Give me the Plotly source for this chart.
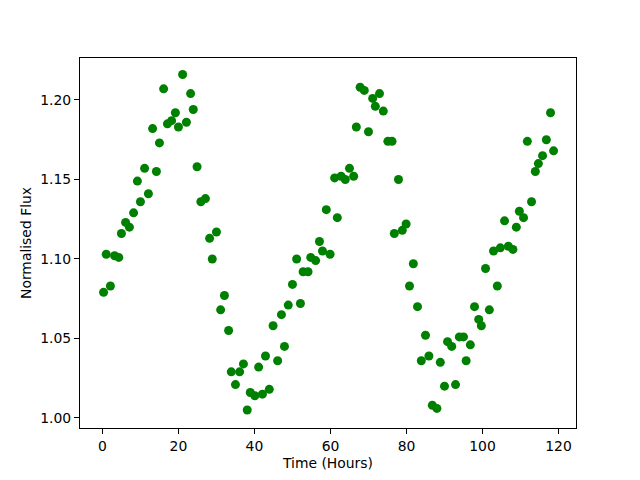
import plotly.graph_objects as go

hours = [0.3, 1.0, 2.1, 3.2, 4.3, 5.0, 6.1, 7.1, 8.2, 9.2,
         10.0, 11.1, 12.1, 13.2, 14.2, 15.0, 16.1, 17.1, 18.2, 19.2,
         20.0, 21.1, 22.1, 23.2, 23.9, 24.9, 25.9, 27.1, 28.2, 28.9,
         30.0, 31.1, 32.1, 33.2, 33.9, 35.0, 36.1, 37.1, 38.1, 38.9,
         40.1, 41.1, 42.1, 42.9, 43.9, 44.9, 46.1, 47.1, 47.9, 48.9,
         50.0, 51.1, 52.1, 52.8, 54.1, 54.8, 56.1, 57.1, 57.9, 58.9,
         59.9, 61.1, 61.8, 62.8, 63.9, 65.0, 66.1, 66.8, 67.8, 68.9,
         70.0, 71.1, 71.8, 72.9, 73.9, 75.1, 76.2, 76.8, 77.9, 78.9,
         79.9, 80.8, 81.8, 82.9, 83.9, 85.0, 85.9, 86.8, 88.0, 88.9,
         90.0, 90.8, 91.9, 92.9, 93.9, 95.0, 95.7, 96.8, 97.9, 99.0,
         99.7, 100.8, 101.8, 102.9, 103.9, 104.7, 105.8, 106.8, 108.0, 108.9,
         109.7, 110.8, 111.8, 112.9, 113.9, 114.7, 115.8, 116.8, 117.9, 118.7]

flux = [1.079, 1.103, 1.083, 1.102, 1.101, 1.116, 1.123, 1.120, 1.129, 1.149,
        1.136, 1.157, 1.141, 1.182, 1.155, 1.173, 1.207, 1.185, 1.187, 1.192,
        1.183, 1.216, 1.186, 1.204, 1.194, 1.158, 1.136, 1.138, 1.113, 1.100,
        1.117, 1.068, 1.077, 1.055, 1.029, 1.021, 1.029, 1.034, 1.005, 1.016,
        1.014, 1.032, 1.015, 1.039, 1.018, 1.058, 1.036, 1.065, 1.045, 1.071,
        1.084, 1.100, 1.072, 1.092, 1.092, 1.101, 1.099, 1.111, 1.105, 1.131,
        1.103, 1.151, 1.126, 1.152, 1.150, 1.157, 1.152, 1.183, 1.208, 1.206,
        1.180, 1.201, 1.196, 1.204, 1.193, 1.174, 1.174, 1.116, 1.150, 1.118,
        1.122, 1.083, 1.097, 1.070, 1.036, 1.052, 1.039, 1.008, 1.006, 1.035,
        1.020, 1.048, 1.045, 1.021, 1.051, 1.051, 1.036, 1.046, 1.070, 1.062,
        1.058, 1.094, 1.068, 1.105, 1.083, 1.107, 1.124, 1.108, 1.106, 1.120,
        1.130, 1.126, 1.174, 1.136, 1.155, 1.160, 1.165, 1.175, 1.192, 1.168]

x_ticks = [0, 20, 40, 60, 80, 100, 120]
y_ticks = [1.00, 1.05, 1.10, 1.15, 1.20]

fig = go.Figure(go.Scatter(
    x=hours, y=flux, mode="markers",
    marker=dict(color="#008000", size=9, line=dict(width=0)),
    showlegend=False,
))

font = dict(family="DejaVu Sans", size=13.9, color="black")
axis_common = dict(
    showgrid=False, zeroline=False, showline=True, linecolor="black",
    linewidth=1, mirror=True, ticks="outside", ticklen=5, tickwidth=1,
    tickcolor="black", tickfont=font,
)

fig.update_xaxes(range=[-5.9, 124.6], tickvals=x_ticks,
                 ticktext=[str(v) for v in x_ticks],
                 title=dict(text="Time (Hours)", font=font, standoff=5),
                 **axis_common)
fig.update_yaxes(range=[0.9937, 1.2264], tickvals=y_ticks,
                 ticktext=[f"{v:.2f}" for v in y_ticks],
                 title=dict(text="Normalised Flux", font=font, standoff=5),
                 **axis_common)

fig.update_layout(
    width=640, height=480,
    margin=dict(l=80, r=64, t=58, b=52),
    paper_bgcolor="white", plot_bgcolor="white",
    font=font,
)

fig.write_html(
    "out.html",
    config={"displayModeBar": False},
    post_script="document.body.style.margin='0';document.body.style.overflow='hidden';",
)
